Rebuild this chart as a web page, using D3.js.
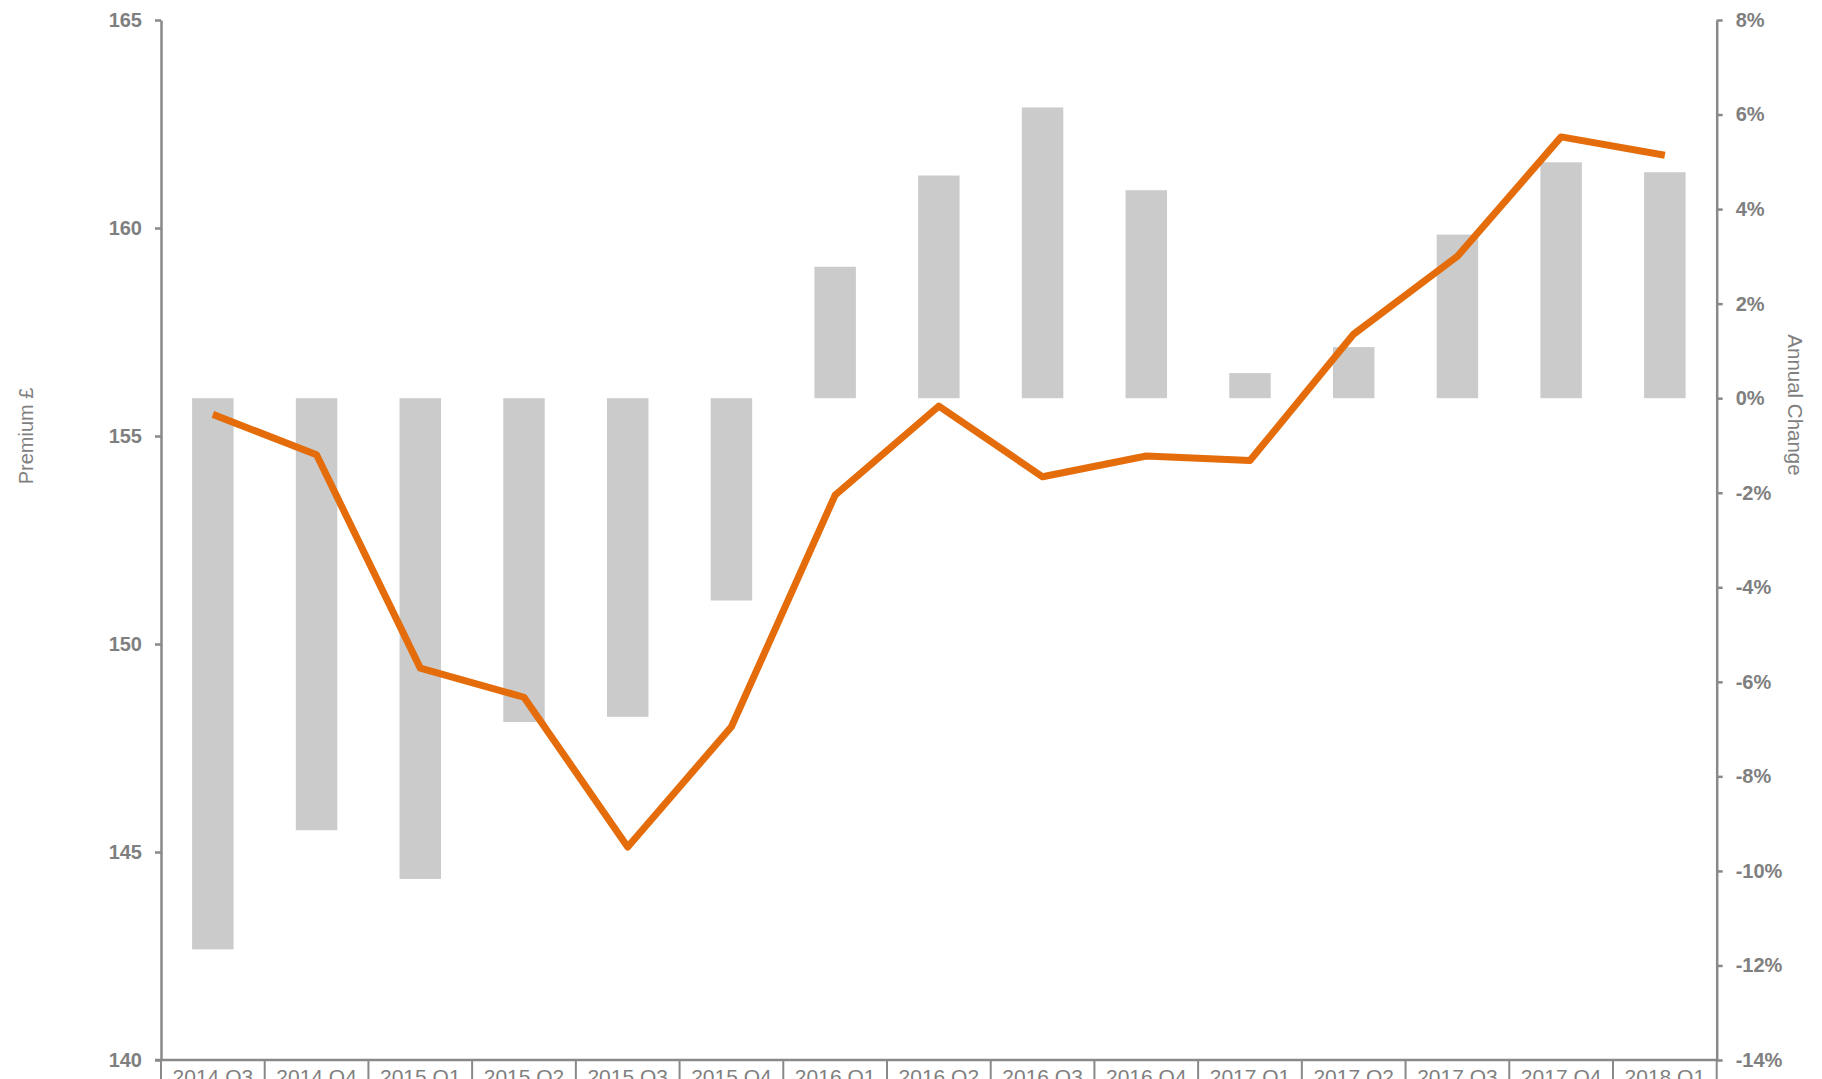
<!DOCTYPE html>
<html>
<head>
<meta charset="utf-8">
<script src="https://cdn.jsdelivr.net/npm/d3@7"></script>
<style>
  html, body { margin: 0; padding: 0; background: #ffffff; overflow: hidden; }
  svg { display: block; font-family: "Liberation Sans", Arial, sans-serif; }
</style>
</head>
<body>
<svg id="chart" width="1822" height="1079"></svg>
<script>
const categories = ["2014 Q3","2014 Q4","2015 Q1","2015 Q2","2015 Q3","2015 Q4","2016 Q1","2016 Q2","2016 Q3","2016 Q4","2017 Q1","2017 Q2","2017 Q3","2017 Q4","2018 Q1"];
const premium = [155.52,154.55,149.42,148.72,145.12,148.01,153.58,155.72,154.02,154.52,154.41,157.45,159.32,162.19,161.75];
const annualChange = [-11.66,-9.14,-10.17,-6.85,-6.74,-4.28,2.78,4.71,6.15,4.40,0.53,1.08,3.46,4.99,4.78];
const leftTicks = [140,145,150,155,160,165];
const rightTicks = [-14,-12,-10,-8,-6,-4,-2,0,2,4,6,8];

const W = 1822, H = 1079;
const m = {left: 161, right: W - 1716.7, top: 20, bottom: H - 1060};
const x0 = m.left, x1 = W - m.right, y0 = m.top, y1 = H - m.bottom;
const grey = "#7f7f7f", axisCol = "#898989";

const svg = d3.select("#chart");

const x = d3.scaleBand().domain(categories).range([x0, x1]).padding(0);
const xb = d3.scaleBand().domain(categories).range([x0, x1]).paddingInner(0.6).paddingOuter(0.3);
const yL = d3.scaleLinear().domain([140, 165]).range([y1, y0]);
const yR = d3.scaleLinear().domain([-14, 8]).range([y1, y0]);

// Bars (annual change, right axis)
svg.append("g").selectAll("rect").data(annualChange).join("rect")
  .attr("x", (d, i) => xb(categories[i]))
  .attr("width", xb.bandwidth())
  .attr("y", d => yR(Math.max(0, d)))
  .attr("height", d => Math.abs(yR(d) - yR(0)))
  .attr("fill", "#cbcbcb");

// Line (premium, left axis)
const line = d3.line()
  .x((d, i) => x(categories[i]) + x.bandwidth() / 2)
  .y(d => yL(d));
svg.append("path").datum(premium)
  .attr("d", line)
  .attr("fill", "none")
  .attr("stroke", "#e46c0a")
  .attr("stroke-width", 7)
  .attr("stroke-linejoin", "round")
  .attr("stroke-linecap", "butt");

// Left axis
const gL = svg.append("g").attr("transform", `translate(${x0},0)`)
  .call(d3.axisLeft(yL).tickValues(leftTicks).tickSize(6).tickPadding(13).tickSizeOuter(0));
// Right axis
const gR = svg.append("g").attr("transform", `translate(${x1},0)`)
  .call(d3.axisRight(yR).tickValues(rightTicks).tickFormat(d => d + "%").tickSize(6).tickPadding(13).tickSizeOuter(0));
[gL, gR].forEach(g => {
  g.select(".domain").attr("stroke", axisCol).attr("stroke-width", 2.5);
  g.selectAll(".tick line").attr("stroke", axisCol).attr("stroke-width", 2.5);
  g.selectAll(".tick text").attr("fill", grey).attr("font-size", 20).attr("font-weight", "bold")
    .attr("font-family", "Liberation Sans, Arial, sans-serif");
});

// Bottom axis
const gB = svg.append("g").attr("transform", `translate(0,${y1})`)
  .call(d3.axisBottom(x).tickSize(0).tickPadding(9).tickSizeOuter(0));
gB.select(".domain").attr("stroke", axisCol).attr("stroke-width", 2.5)
  .attr("d", `M${x0 - 6},0H${x1 + 1}`);
gB.selectAll(".tick text").attr("fill", grey).attr("font-size", 21)
  .attr("font-family", "Liberation Sans, Arial, sans-serif");
// category dividers
const bounds = categories.map(c => x(c)).concat([x1]);
gB.selectAll("line.div").data(bounds).join("line").attr("class", "div")
  .attr("x1", d => d).attr("x2", d => d).attr("y1", 0).attr("y2", 40)
  .attr("stroke", axisCol).attr("stroke-width", 2);

// Axis titles
svg.append("text")
  .attr("transform", `translate(33,436) rotate(-90)`)
  .attr("text-anchor", "middle")
  .attr("fill", grey).attr("font-size", 20)
  .text("Premium £");
svg.append("text")
  .attr("transform", `translate(1788,405) rotate(90)`)
  .attr("text-anchor", "middle")
  .attr("fill", grey).attr("font-size", 20.5)
  .text("Annual Change");
</script>
</body>
</html>
